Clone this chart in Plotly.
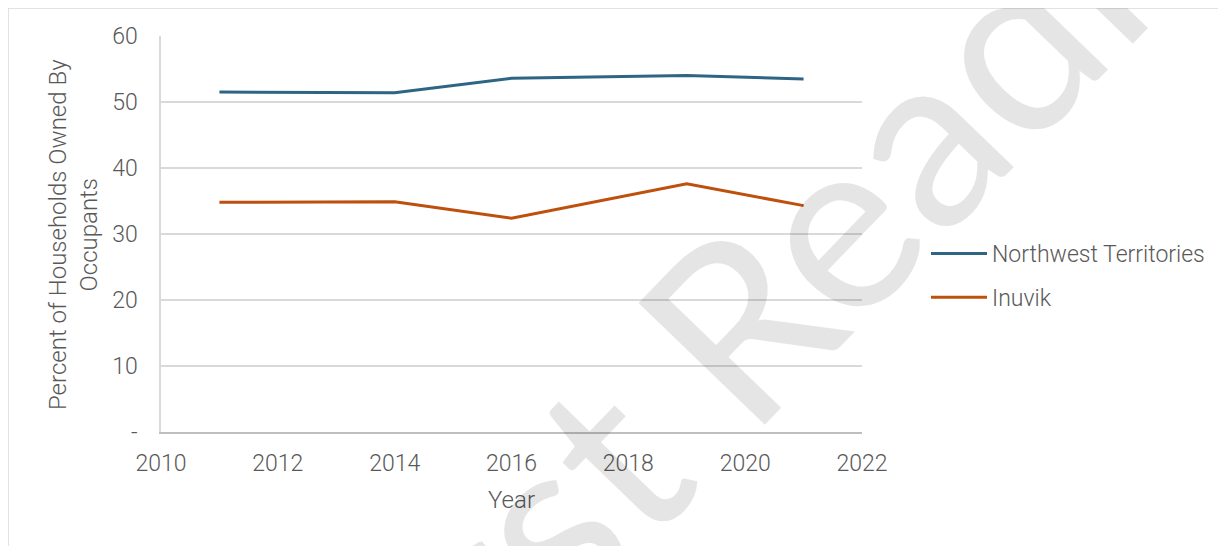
"""Percent of households owned by occupants: Northwest Territories vs Inuvik."""

import plotly.graph_objects as go

years = [2011, 2014, 2016, 2019, 2021]
nwt_pct = [51.5, 51.4, 53.6, 54.0, 53.5]
inuvik_pct = [34.8, 34.9, 32.4, 37.6, 34.3]

y_ticks = [0, 10, 20, 30, 40, 50, 60]
y_tick_text = ["-", "10", "20", "30", "40", "50", "60"]

FONT = "Roboto, Lato, sans-serif"
GREY = "#595959"

# page is offset by the browser's 8px body margin
L, R, T, B = 153, 372, 28, 122
PW, PH = 1226 - L - R, 546 - T - B

fig = go.Figure()

fig.add_trace(
    go.Scatter(
        x=years,
        y=nwt_pct,
        mode="lines",
        name="Northwest Territories",
        legendgroup="nwt",
        line=dict(color="#2E6584", width=3),
    )
)
fig.add_trace(
    go.Scatter(
        x=years,
        y=inuvik_pct,
        mode="lines",
        name="Inuvik",
        legendgroup="inuvik",
        line=dict(color="#BE4F0C", width=3),
    )
)

fig.update_xaxes(
    range=[2010, 2022],
    tickmode="linear",
    tick0=2010,
    dtick=2,
    showgrid=False,
    showline=True,
    linecolor="#BFBFBF",
    linewidth=1.5,
    ticks="",
    ticklabelstandoff=10,
    tickfont=dict(family=FONT, size=23, color=GREY, weight=300),
    zeroline=False,
)
fig.update_yaxes(
    range=[0, 60],
    tickvals=y_ticks,
    ticktext=y_tick_text,
    showgrid=True,
    gridcolor="#D9D9D9",
    gridwidth=1.5,
    showline=True,
    linecolor="#D9D9D9",
    linewidth=1.5,
    ticks="",
    ticklabelstandoff=17,
    tickfont=dict(family=FONT, size=23, color=GREY, weight=300),
    zeroline=False,
)

fig.update_layout(
    width=1226,
    height=546,
    margin=dict(l=L, r=R, t=T, b=B, autoexpand=False),
    paper_bgcolor="white",
    plot_bgcolor="white",
    font=dict(family=FONT, color=GREY, weight=300),
    legend=dict(
        x=(926 - 161) / PW,
        y=(432 - 232) / PH,
        xanchor="left",
        yanchor="top",
        font=dict(family=FONT, size=23, color=GREY, weight=300),
        itemwidth=56,
        tracegroupgap=11,
        bgcolor="rgba(0,0,0,0)",
    ),
    annotations=[
        dict(
            text="Percent of Households Owned By<br>Occupants",
            x=(73 - 161) / PW,
            y=(432 - 235) / PH,
            xref="paper",
            yref="paper",
            xanchor="center",
            yanchor="middle",
            textangle=-90,
            showarrow=False,
            font=dict(family=FONT, size=24, color=GREY, weight=300),
        ),
        dict(
            text="Year",
            x=(512 - 161) / PW,
            y=(432 - 500) / PH,
            xref="paper",
            yref="paper",
            xanchor="center",
            yanchor="middle",
            showarrow=False,
            font=dict(family=FONT, size=24, color=GREY, weight=300),
        ),
        dict(
            text="First Reading",
            x=(790 - 161) / PW,
            y=(432 - 262) / PH,
            xref="paper",
            yref="paper",
            xanchor="center",
            yanchor="middle",
            textangle=-46,
            showarrow=False,
            font=dict(family="Lato, sans-serif", size=245, color="rgba(0,0,0,0.1)", weight=400),
        ),
    ],
    shapes=[
        dict(
            type="rect",
            xref="paper",
            yref="paper",
            x0=-L / PW,
            x1=1 + R / PW,
            y0=-B / PH,
            y1=1 + T / PH,
            line=dict(color="#D9D9D9", width=1.5),
            layer="below",
        )
    ],
)

fig.write_html("out.html")
